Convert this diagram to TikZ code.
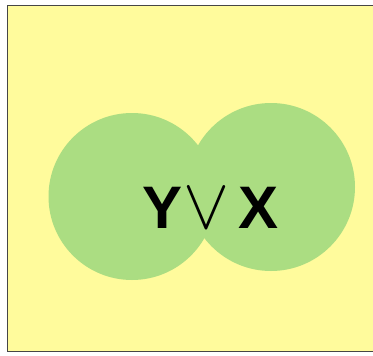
\documentclass[tikz,border=0pt]{standalone}
\usepackage{fontspec}
\setmainfont{Liberation Sans}
\definecolor{paleyellow}{RGB}{255,251,156}
\definecolor{leafgreen}{RGB}{171,221,130}
\definecolor{frame}{RGB}{70,70,70}
\tikzset{
  setdisk/.style={fill=leafgreen,draw=none},
  letter/.style={anchor=base,inner sep=0pt,font=\fontsize{60}{60}\selectfont\bfseries}
}
\begin{document}
\begin{tikzpicture}[x=1pt,y=-1pt]
\useasboundingbox (0,0) rectangle (373,356);
\clip (0,0) rectangle (373,356);
\draw[fill=paleyellow,draw=frame,line width=1.6pt] (7.5,5.5) rectangle (390,351.5);
\fill[setdisk] (132,196.5) circle (83.5);
\fill[setdisk] (271,187) circle (84);
\node[letter] (y) at (162.5,228) {Y};
\node[anchor=base,inner sep=0pt] (vee) at (206.5,228) {\resizebox{46pt}{40pt}{$\vee$}};
\node[letter] (x) at (258.5,228) {X};
\end{tikzpicture}
\end{document}
